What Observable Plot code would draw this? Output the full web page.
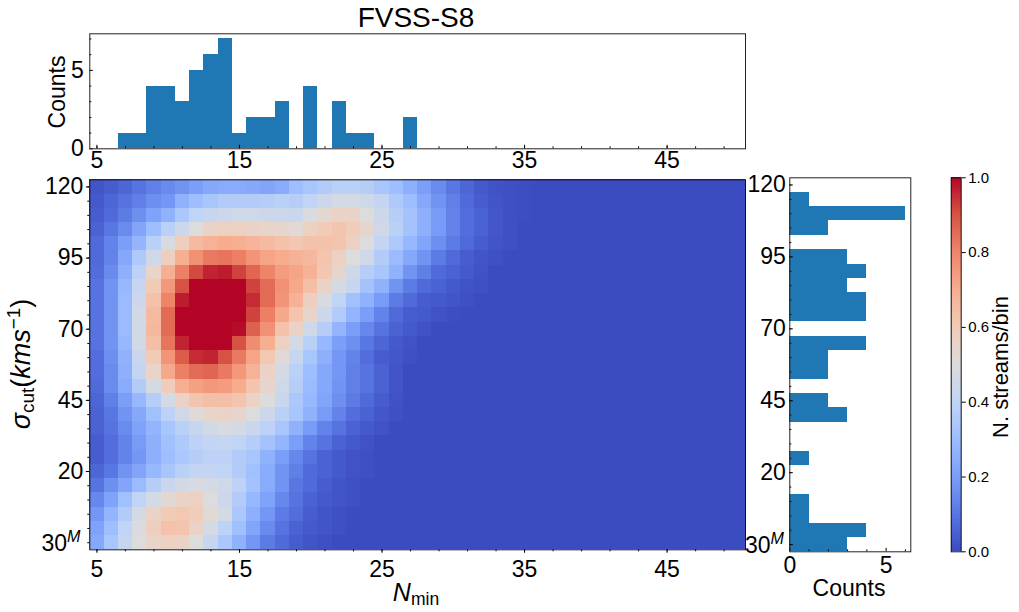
<!DOCTYPE html>
<html>
<head>
<meta charset="utf-8">
<script src="https://cdn.jsdelivr.net/npm/d3@7"></script>
<script src="https://cdn.jsdelivr.net/npm/@observablehq/plot@0.6"></script>
<style>
  html, body { margin: 0; background: #fff; }
  body { width: 1019px; height: 612px; position: relative; overflow: hidden; font-family: "Liberation Sans", Arial, sans-serif; color: #000; }
  .panel { position: absolute; }
  .lab { position: absolute; white-space: nowrap; transform: translate(-50%, -50%); line-height: 1; }
  .rot { transform: translate(-50%, -50%) rotate(-90deg); }
  .lab sub { font-size: 70%; vertical-align: -0.25em; line-height: 0; }
  .lab sup { font-size: 70%; vertical-align: 0.5em; line-height: 0; }
</style>
</head>
<body>
<div class="panel" id="topHist" style="left:0;top:0"></div>
<div class="panel" id="main" style="left:0;top:170px"></div>
<div class="panel" id="rightHist" style="left:745px;top:170px"></div>
<div class="panel" id="cbar" style="left:920px;top:170px"></div>
<div class="lab" style="left:416px;top:18px;font-size:28px">FVSS-S8</div>
<div class="lab rot" style="left:57px;top:92px;font-size:23px">Counts</div>
<div class="lab rot" style="left:21px;top:364px;font-size:27px"><i>σ</i><sub>cut</sub>(<i>kms</i><sup>−1</sup>)</div>
<div class="lab" style="left:416px;top:592px;font-size:25px"><i>N</i><sub>min</sub></div>
<div class="lab" style="left:849px;top:588px;font-size:23px">Counts</div>
<div class="lab rot" style="left:1001px;top:367px;font-size:22px">N. streams/bin</div>
<div class="lab" style="left:61px;top:543px;font-size:23px">30<sup><i>M</i></sup></div>
<div class="lab" style="left:764.5px;top:545px;font-size:23px">30<sup><i>M</i></sup></div>
<script>
// histogram along Nmin
const nMin = d3.range(5, 51)
const nMinCounts = [0,0,1,1,4,4,3,5,6,7,1,2,2,3,0,4,0,3,1,1,0,0,2]

// histogram along sigma cut, top row first
const sigmaCut = d3.range(120, -6, -5)
const sigmaCounts = [0,1,6,2,0,3,4,3,4,4,0,4,2,2,0,2,3,0,0,1,0,0,1,1,4,3]

// normalised density, one row per sigmaCut, one value per nMin (trailing zeros left out)
const density = [
  [.02,.04,.06,.09,.12,.15,.17,.2,.23,.24,.24,.23,.22,.24,.3,.33,.36,.38,.38,.37,.33,.3,.25,.2,.15,.1,.06,.03,.015,.01,.005],
  [.03,.06,.09,.12,.16,.18,.26,.3,.33,.36,.36,.36,.37,.38,.37,.4,.44,.47,.47,.45,.41,.35,.3,.23,.17,.12,.07,.04,.02,.01,.005],
  [.04,.07,.11,.16,.21,.26,.34,.4,.42,.44,.45,.45,.44,.44,.43,.49,.53,.56,.56,.5,.44,.37,.32,.25,.19,.13,.08,.05,.025,.01,.005],
  [.05,.1,.15,.22,.3,.38,.44,.5,.56,.57,.57,.56,.55,.54,.52,.57,.6,.62,.59,.54,.45,.38,.32,.25,.19,.13,.08,.05,.025,.01],
  [.07,.13,.2,.27,.38,.48,.58,.65,.68,.7,.69,.67,.65,.63,.61,.63,.63,.62,.57,.5,.41,.35,.28,.22,.16,.11,.07,.04,.02,.01],
  [.07,.13,.23,.35,.45,.58,.69,.77,.82,.83,.81,.76,.72,.7,.68,.66,.62,.57,.5,.45,.36,.29,.23,.17,.11,.07,.04,.02,.01],
  [.08,.15,.25,.39,.55,.69,.81,.91,.96,.97,.92,.86,.8,.74,.72,.68,.61,.54,.45,.37,.33,.26,.17,.12,.07,.05,.03,.015],
  [.09,.17,.28,.42,.6,.75,.9,1,1,1,1,.92,.85,.77,.71,.64,.56,.47,.42,.32,.26,.17,.11,.07,.05,.03,.015,.01],
  [.09,.17,.29,.44,.63,.8,.97,1,1,1,1,.95,.85,.76,.68,.58,.48,.4,.31,.26,.19,.11,.07,.04,.03,.02,.01],
  [.09,.17,.29,.46,.65,.85,1,1,1,1,1,.92,.81,.71,.62,.55,.44,.36,.27,.2,.13,.07,.04,.03,.015,.005],
  [.09,.17,.29,.46,.66,.85,1,1,1,1,.99,.87,.77,.63,.56,.45,.37,.27,.2,.14,.09,.05,.03,.015],
  [.09,.17,.28,.46,.64,.83,.96,1,1,1,.9,.78,.69,.57,.47,.38,.28,.2,.16,.1,.06,.03,.015],
  [.08,.16,.26,.43,.6,.76,.88,.95,.96,.9,.82,.72,.61,.52,.42,.33,.25,.18,.13,.08,.04,.025,.01],
  [.08,.15,.25,.41,.55,.71,.81,.85,.86,.82,.75,.68,.56,.47,.38,.3,.23,.18,.12,.09,.05,.02],
  [.07,.15,.24,.36,.47,.59,.69,.73,.75,.74,.7,.62,.54,.45,.37,.29,.23,.17,.12,.09,.05,.02],
  [.06,.12,.2,.28,.37,.47,.56,.62,.64,.64,.62,.56,.5,.43,.34,.28,.22,.16,.11,.07,.04,.015],
  [.05,.1,.17,.23,.31,.39,.45,.51,.55,.56,.54,.5,.44,.38,.33,.26,.19,.13,.08,.05,.025,.01],
  [.05,.09,.15,.21,.27,.33,.38,.42,.46,.48,.47,.43,.39,.33,.26,.19,.13,.09,.05,.03,.015],
  [.04,.08,.13,.19,.25,.31,.35,.39,.41,.42,.4,.37,.32,.27,.2,.13,.09,.05,.03,.015],
  [.04,.08,.13,.18,.25,.3,.34,.37,.39,.39,.36,.33,.26,.2,.14,.09,.05,.03,.015,.01],
  [.06,.1,.17,.22,.28,.33,.38,.41,.41,.4,.36,.31,.24,.17,.12,.07,.05,.03,.015,.01],
  [.09,.16,.22,.29,.37,.43,.46,.48,.47,.45,.39,.32,.24,.17,.1,.07,.04,.02,.01],
  [.14,.21,.31,.4,.47,.53,.56,.57,.5,.44,.36,.28,.21,.14,.09,.05,.03,.02,.01],
  [.18,.27,.36,.47,.56,.6,.61,.59,.52,.47,.34,.25,.18,.11,.08,.04,.02,.01],
  [.21,.3,.4,.49,.58,.63,.62,.56,.47,.39,.31,.22,.15,.09,.05,.03,.02,.01],
  [.23,.33,.42,.5,.55,.57,.56,.5,.42,.34,.26,.18,.11,.07,.04,.02,.01]
]

// tick positions and labels
const xMajor = [5, 15, 25, 35, 45]
const xMinor = d3.range(5, 50, 2)
const sigmaMajor = [120, 95, 70, 45, 20]
const sigmaMinor = d3.range(120, -6, -5)
const countMajorTop = [0, 5]
const countMinorTop = [1, 2, 3, 4, 6, 7]
const countMajorRight = [0, 5]
const countMinorRight = [1, 2, 3, 4, 6]
const cbarTicks = [0, 0.2, 0.4, 0.6, 0.8, 1]

// coolwarm
const cmapStops = [0, .1, .2, .3, .4, .5, .6, .7, .8, .9, 1]
const cmapColors = ["#3b4cc0","#5977e3","#7b9ff9","#9ebeff","#c0d4f5","#dddcdc","#f2cbb7","#f7ac8e","#ee8468","#d65244","#b40426"]
const colorScale = {type: "linear", domain: cmapStops, range: cmapColors, clamp: true}

const barColor = "#1f77b4"
const fontFamily = '"Liberation Sans", Arial, sans-serif'
const tickFont = 23

const cells = sigmaCut.flatMap((s, i) => nMin.map((n, j) => ({n, s, v: density[i][j] ?? 0})))
const topBars = nMinCounts.map((c, i) => ({n: nMin[i], c}))
const rightBars = sigmaCounts.map((c, i) => ({s: sigmaCut[i], c}))
const cbarSteps = d3.range(0, 1, 1 / 256)

let mainChart = Plot.plot({
  width: 760, height: 442,
  marginLeft: 89.3, marginRight: 15, marginTop: 9.3, marginBottom: 62.7,
  style: {fontFamily, background: "none"},
  x: {domain: [4.5, 50.5]},
  y: {domain: [-7.5, 122.5]},
  color: colorScale,
  marks: [
    Plot.rect(cells, {x1: d => d.n - .5, x2: d => d.n + .5, y1: d => d.s - 2.5, y2: d => d.s + 2.5, fill: "v", shapeRendering: "crispEdges"}),
    Plot.axisX({ticks: xMinor, tickSize: 2, tickFormat: () => "", label: null, anchor: "bottom"}),
    Plot.axisX({ticks: xMajor, tickSize: 3.5, tickPadding: 7, fontSize: tickFont, label: null, anchor: "bottom"}),
    Plot.axisY({ticks: sigmaMinor, tickSize: 2, tickFormat: () => "", label: null, anchor: "left"}),
    Plot.axisY({ticks: sigmaMajor, tickSize: 3.5, tickPadding: 3, fontSize: tickFont, label: null, anchor: "left"}),
    Plot.frame({stroke: "#111", strokeWidth: 1})
  ]
})
d3.select("#main").append(() => mainChart)

let topChart = Plot.plot({
  width: 760, height: 180,
  marginLeft: 89.3, marginRight: 15, marginTop: 33.3, marginBottom: 31.7,
  style: {fontFamily, background: "none"},
  x: {domain: [4.5, 50.5]},
  y: {domain: [0, 7.33]},
  marks: [
    Plot.rectY(topBars, {x1: d => d.n - .5, x2: d => d.n + .5, y: "c", fill: barColor, shapeRendering: "crispEdges"}),
    Plot.axisX({ticks: xMinor, tickSize: -2, tickFormat: () => "", label: null, anchor: "bottom"}),
    Plot.axisX({ticks: xMajor, tickSize: -3.5, tickFormat: () => "", label: null, anchor: "bottom"}),
    Plot.axisX({ticks: xMajor, tickSize: 0, tickPadding: 3, fontSize: tickFont, label: null, anchor: "bottom"}),
    Plot.axisY({ticks: countMinorTop, tickSize: -2, tickFormat: () => "", label: null, anchor: "left"}),
    Plot.axisY({ticks: countMajorTop, tickSize: -3.5, tickFormat: () => "", label: null, anchor: "left"}),
    Plot.axisY({ticks: countMajorTop, tickSize: 0, tickPadding: 6, fontSize: tickFont, label: null, anchor: "left"}),
    Plot.frame({stroke: "#222", strokeWidth: 1})
  ]
})
d3.select("#topHist").append(() => topChart)

let rightChart = Plot.plot({
  width: 175, height: 442,
  marginLeft: 44.3, marginRight: 9.7, marginTop: 7.3, marginBottom: 60.7,
  style: {fontFamily, background: "none"},
  x: {domain: [0, 6.28]},
  y: {domain: [-7.5, 122.5]},
  marks: [
    Plot.rectX(rightBars, {y1: d => d.s - 2.5, y2: d => d.s + 2.5, x: "c", fill: barColor, shapeRendering: "crispEdges"}),
    Plot.axisX({ticks: countMinorRight, tickSize: -2, tickFormat: () => "", label: null, anchor: "bottom"}),
    Plot.axisX({ticks: countMajorRight, tickSize: -3.5, tickFormat: () => "", label: null, anchor: "bottom"}),
    Plot.axisX({ticks: countMajorRight, tickSize: 0, tickPadding: 5, tickFormat: d3.format("d"), fontSize: tickFont, label: null, anchor: "bottom"}),
    Plot.axisY({ticks: sigmaMinor, tickSize: -2, tickFormat: () => "", label: null, anchor: "left"}),
    Plot.axisY({ticks: sigmaMajor.concat([-5]), tickSize: -3.5, tickFormat: () => "", label: null, anchor: "left"}),
    Plot.axisY({ticks: sigmaMajor, tickSize: 0, tickPadding: 4, fontSize: tickFont, label: null, anchor: "left"}),
    Plot.frame({stroke: "#222", strokeWidth: 1})
  ]
})
d3.select("#rightHist").append(() => rightChart)

let cbarChart = Plot.plot({
  width: 99, height: 442,
  marginLeft: 30.7, marginRight: 58.3, marginTop: 7.3, marginBottom: 60.7,
  style: {fontFamily, background: "none"},
  x: {axis: null, domain: [0, 1]},
  y: {domain: [0, 1]},
  color: colorScale,
  marks: [
    Plot.rect(cbarSteps, {x1: 0, x2: 1, y1: d => d, y2: d => d + 1 / 256, fill: d => d, shapeRendering: "crispEdges"}),
    Plot.axisY({ticks: cbarTicks, tickSize: 4, tickPadding: 3, tickFormat: d3.format(".1f"), fontSize: 15, label: null, anchor: "right"}),
    Plot.frame({stroke: "#111", strokeWidth: 1})
  ]
})
d3.select("#cbar").append(() => cbarChart)
</script>
</body>
</html>
